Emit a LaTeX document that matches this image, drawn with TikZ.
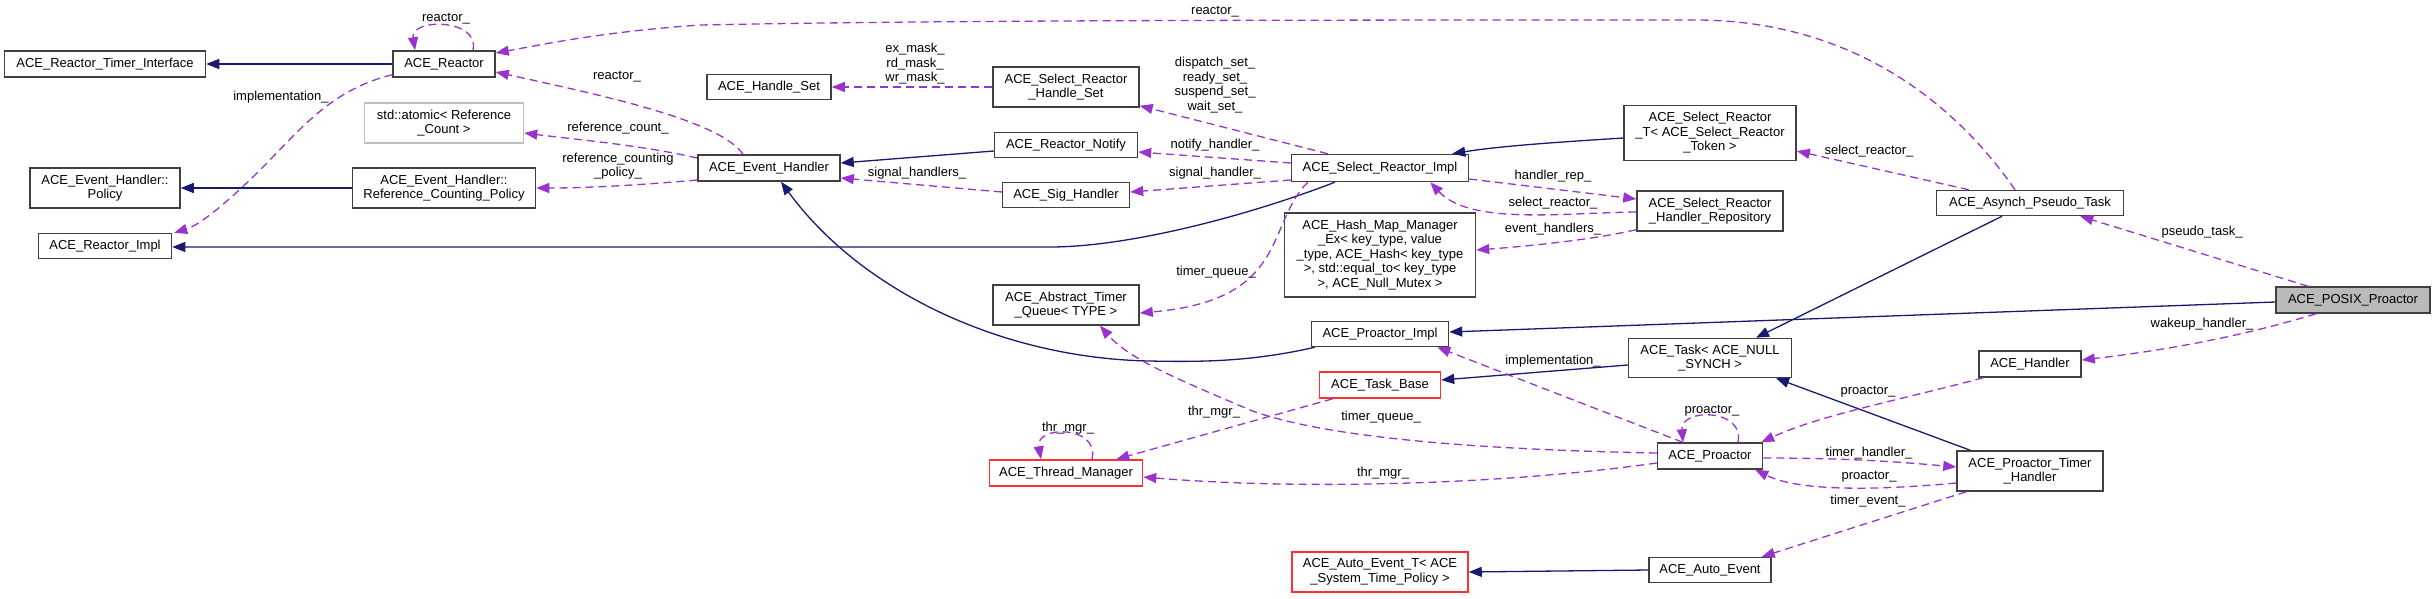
\documentclass[tikz,border=0pt]{standalone}
\usepackage{fontspec}
\setmainfont{Liberation Sans}
\usetikzlibrary{arrows.meta,calc}
\definecolor{inh}{HTML}{191970}
\definecolor{usg}{HTML}{9A32CD}
\definecolor{bred}{HTML}{FF3030}
\newcommand\dxfont{\fontsize{13}{14.5}\selectfont}
\begin{document}
\begin{tikzpicture}[x=1pt,y=-1pt,
 box/.style={draw=black!75, line width=1.5pt, fill=white, inner sep=0pt, align=center, font=\dxfont, text=black},
 redbox/.style={box, draw=bred},
 graybox/.style={box, draw=black!25},
 hlbox/.style={box, fill=black!27},
 inhedge/.style={draw=inh, line width=1.3pt, -{Triangle[length=13pt,width=10pt]}},
 useedge/.style={draw=usg, line width=1.3pt, dash pattern=on 8pt off 5pt, -{Triangle[length=13pt,width=10pt]}},
 lbl/.style={inner sep=0pt, align=center, font=\dxfont, text=black}]
\useasboundingbox (0,0) rectangle (2435,598);
% nodes
\node[box, minimum width=201pt, minimum height=26pt] (timer_iface) at (105,64) {ACE\_Reactor\_Timer\_Interface};
\node[box, minimum width=102pt, minimum height=26pt] (reactor) at (444,64) {ACE\_Reactor};
\node[graybox, minimum width=159pt, minimum height=40pt] (atomic) at (444,123) {std::atomic< Reference\\\_Count >};
\node[box, minimum width=150pt, minimum height=40pt] (policy) at (105,188) {ACE\_Event\_Handler::\\Policy};
\node[box, minimum width=183pt, minimum height=40pt] (rcpolicy) at (444,188) {ACE\_Event\_Handler::\\Reference\_Counting\_Policy};
\node[box, minimum width=133pt, minimum height=25pt] (reactor_impl) at (105,246) {ACE\_Reactor\_Impl};
\node[box, minimum width=142pt, minimum height=26pt] (event_handler) at (769,168) {ACE\_Event\_Handler};
\node[box, minimum width=124pt, minimum height=25pt] (handle_set) at (769,87) {ACE\_Handle\_Set};
\node[box, minimum width=146pt, minimum height=40pt] (sr_handle_set) at (1066,87) {ACE\_Select\_Reactor\\\_Handle\_Set};
\node[box, minimum width=143pt, minimum height=25pt] (reactor_notify) at (1066,145) {ACE\_Reactor\_Notify};
\node[box, minimum width=127pt, minimum height=25pt] (sig_handler) at (1066,195) {ACE\_Sig\_Handler};
\node[box, minimum width=146pt, minimum height=40pt] (timer_queue) at (1066,305) {ACE\_Abstract\_Timer\\\_Queue< TYPE >};
\node[box, minimum width=177pt, minimum height=27pt] (sr_impl) at (1380,168) {ACE\_Select\_Reactor\_Impl};
\node[box, minimum width=172pt, minimum height=55pt] (sr_t) at (1710,133) {ACE\_Select\_Reactor\\\_T< ACE\_Select\_Reactor\\\_Token >};
\node[box, minimum width=146pt, minimum height=40pt] (handler_repo) at (1710,211) {ACE\_Select\_Reactor\\\_Handler\_Repository};
\node[box, minimum width=191pt, minimum height=84pt] (hash_map) at (1380,255) {ACE\_Hash\_Map\_Manager\\\_Ex< key\_type, value\\\_type, ACE\_Hash< key\_type\\>, std::equal\_to< key\_type\\>, ACE\_Null\_Mutex >};
\node[box, minimum width=137pt, minimum height=25pt] (proactor_impl) at (1380,334) {ACE\_Proactor\_Impl};
\node[box, minimum width=163pt, minimum height=39pt] (task) at (1710,358) {ACE\_Task< ACE\_NULL\\\_SYNCH >};
\node[redbox, minimum width=121pt, minimum height=26pt] (task_base) at (1380,385) {ACE\_Task\_Base};
\node[redbox, minimum width=153pt, minimum height=26pt] (thread_mgr) at (1066,473) {ACE\_Thread\_Manager};
\node[box, minimum width=105pt, minimum height=26pt] (proactor) at (1710,456) {ACE\_Proactor};
\node[box, minimum width=146pt, minimum height=40pt] (timer_handler) at (2030,471) {ACE\_Proactor\_Timer\\\_Handler};
\node[redbox, minimum width=176pt, minimum height=40pt] (auto_event_t) at (1380,572) {ACE\_Auto\_Event\_T< ACE\\\_System\_Time\_Policy >};
\node[box, minimum width=122pt, minimum height=25pt] (auto_event) at (1710,570) {ACE\_Auto\_Event};
\node[box, minimum width=187pt, minimum height=25pt] (pseudo_task) at (2030,203) {ACE\_Asynch\_Pseudo\_Task};
\node[hlbox, minimum width=154pt, minimum height=26pt] (posix) at (2353,300) {ACE\_POSIX\_Proactor};
\node[box, minimum width=102pt, minimum height=26pt] (handler) at (2030,364) {ACE\_Handler};
% inheritance edges
\draw[inhedge] (reactor.west) -- (timer_iface.east);
\draw[inhedge] (rcpolicy.west) -- (policy.east);
\draw[inhedge] ($(sr_impl.south west)+(44,0)$) .. controls (1250,215) and (1130,247) .. (1050,247) -- ($(reactor_impl.east)+(0,1)$);
\draw[inhedge] ($(reactor_notify.west)+(0,6)$) -- ($(event_handler.east)+(0,-5)$);
\draw[inhedge] ($(proactor_impl.south west)+(4,0)$) .. controls (1250,362) and (1200,362) .. (1149,361) .. controls (1000,358) and (860,290) .. ($(event_handler.south)+(12,0)$);
\draw[inhedge] ($(sr_t.west)+(0,5)$) .. controls (1560,142) and (1500,146) .. ($(sr_impl.north east)+(-17,0)$);
\draw[inhedge] ($(posix.west)+(0,2)$) -- ($(proactor_impl.east)+(0,-2)$);
\draw[inhedge] ($(pseudo_task.south)+(-28,0)$) -- ($(task.north)+(46,0)$);
\draw[inhedge] ($(task.west)+(0,7)$) -- ($(task_base.east)+(0,-5)$);
\draw[inhedge] ($(timer_handler.north west)+(14,0)$) -- ($(task.south)+(66,0)$);
\draw[inhedge] (auto_event.west) -- (auto_event_t.east);
% usage edges
\draw[useedge] ($(reactor.north)+(29,0)$) .. controls (480,18) and (410,18) .. ($(reactor.north)+(-29,0)$);
\draw[useedge] ($(reactor.south west)+(0,-3)$) .. controls (330,90) and (300,130) .. (260,170) .. controls (230,200) and (200,225) .. ($(reactor_impl.north east)+(2,0)$);
\draw[useedge] ($(event_handler.north)+(-26,0)$) .. controls (720,120) and (600,95) .. ($(reactor.east)+(0,8)$);
\draw[useedge] ($(event_handler.west)+(0,-10)$) .. controls (640,145) and (580,140) .. ($(atomic.east)+(0,10)$);
\draw[useedge] ($(event_handler.west)+(0,12)$) .. controls (640,185) and (590,188) .. (rcpolicy.east);
\draw[useedge] (sr_handle_set.west) -- (handle_set.east);
\draw[useedge] ($(sr_impl.north west)+(37,0)$) -- ($(sr_handle_set.south east)+(0,-2)$);
\draw[useedge] ($(sr_impl.west)+(0,-5)$) -- ($(reactor_notify.east)+(0,7)$);
\draw[useedge] ($(sr_impl.west)+(0,12)$) -- ($(sig_handler.east)+(0,-3)$);
\draw[useedge] ($(sig_handler.west)+(0,-3)$) -- ($(event_handler.east)+(0,10)$);
\draw[useedge] ($(sr_impl.south west)+(17,0)$) .. controls (1265,225) and (1290,300) .. ($(timer_queue.east)+(0,8)$);
\draw[useedge] ($(sr_impl.east)+(0,11)$) -- ($(handler_repo.west)+(0,-12)$);
\draw[useedge] ($(handler_repo.west)+(0,1)$) .. controls (1560,213) and (1470,225) .. ($(sr_impl.south east)+(-39,0)$);
\draw[useedge] ($(handler_repo.south west)+(0,-2)$) .. controls (1590,240) and (1530,246) .. ($(hash_map.east)+(0,-5)$);
\draw[useedge] ($(pseudo_task.north west)+(33,0)$) -- ($(sr_t.east)+(0,18)$);
\draw[useedge] ($(pseudo_task.north)+(-15,0)$) .. controls (1960,110) and (1860,22) .. (1700,20) .. controls (1300,20) and (950,20) .. (700,25) .. controls (600,32) and (540,45) .. ($(reactor.east)+(0,-11)$);
\draw[useedge] ($(posix.north)+(-45,0)$) -- ($(pseudo_task.south east)+(-44,0)$);
\draw[useedge] ($(posix.south)+(-37,0)$) .. controls (2230,340) and (2150,352) .. ($(handler.east)+(0,-4)$);
\draw[useedge] ($(handler.south west)+(5,0)$) .. controls (1900,400) and (1820,415) .. ($(proactor.north east)+(-2,0)$);
\draw[useedge] ($(proactor.north)+(28,0)$) .. controls (1745,408) and (1680,408) .. ($(proactor.north)+(-27,0)$);
\draw[useedge] ($(proactor.north west)+(26,0)$) -- ($(proactor_impl.south east)+(-12,0)$);
\draw[useedge] ($(proactor.west)+(0,-3)$) .. controls (1500,450) and (1330,440) .. (1250,410) .. controls (1180,380) and (1130,360) .. ($(timer_queue.south)+(34,0)$);
\draw[useedge] ($(proactor.west)+(0,7)$) .. controls (1500,485) and (1300,490) .. ($(thread_mgr.east)+(0,4)$);
\draw[useedge] ($(task_base.south west)+(14,0)$) -- ($(thread_mgr.north east)+(-27,0)$);
\draw[useedge] ($(thread_mgr.north)+(26,0)$) .. controls (1100,425) and (1035,425) .. ($(thread_mgr.north)+(-25,0)$);
\draw[useedge] ($(proactor.east)+(0,2)$) .. controls (1850,458) and (1900,462) .. ($(timer_handler.west)+(0,-4)$);
\draw[useedge] ($(timer_handler.west)+(0,12)$) .. controls (1880,490) and (1800,492) .. ($(proactor.south east)+(-8,0)$);
\draw[useedge] ($(timer_handler.south west)+(10,0)$) -- ($(auto_event.north east)+(-10,0)$);
% labels
\node[lbl] (l1) at (446,19) {reactor\_};
\node[lbl] (l2) at (281,97) {implementation\_};
\node[lbl] (l3) at (617,77) {reactor\_};
\node[lbl] (l4) at (618,128) {reference\_count\_};
\node[lbl] (l5) at (618,166) {reference\_counting\\\_policy\_};
\node[lbl] (l6) at (915,64) {ex\_mask\_\\rd\_mask\_\\wr\_mask\_};
\node[lbl] (l7) at (1215,85) {dispatch\_set\_\\ready\_set\_\\suspend\_set\_\\wait\_set\_};
\node[lbl] (l8) at (1215,145) {notify\_handler\_};
\node[lbl] (l9) at (1215,173) {signal\_handler\_};
\node[lbl] (l10) at (917,173) {signal\_handlers\_};
\node[lbl] (l11) at (1215,12) {reactor\_};
\node[lbl] (l12) at (1216,272) {timer\_queue\_};
\node[lbl] (l13) at (1553,176) {handler\_rep\_};
\node[lbl] (l14) at (1553,203) {select\_reactor\_};
\node[lbl] (l15) at (1553,229) {event\_handlers\_};
\node[lbl] (l16) at (1869,151) {select\_reactor\_};
\node[lbl] (l17) at (2202,232) {pseudo\_task\_};
\node[lbl] (l18) at (2202,324) {wakeup\_handler\_};
\node[lbl] (l19) at (1553,361) {implementation\_};
\node[lbl] (l20) at (1712,411) {proactor\_};
\node[lbl] (l21) at (1868,392) {proactor\_};
\node[lbl] (l22) at (1068,428) {thr\_mgr\_};
\node[lbl] (l23) at (1214,412) {thr\_mgr\_};
\node[lbl] (l24) at (1381,417) {timer\_queue\_};
\node[lbl] (l25) at (1383,473) {thr\_mgr\_};
\node[lbl] (l26) at (1869,453) {timer\_handler\_};
\node[lbl] (l27) at (1869,477) {proactor\_};
\node[lbl] (l28) at (1868,501) {timer\_event\_};
\end{tikzpicture}
\end{document}
